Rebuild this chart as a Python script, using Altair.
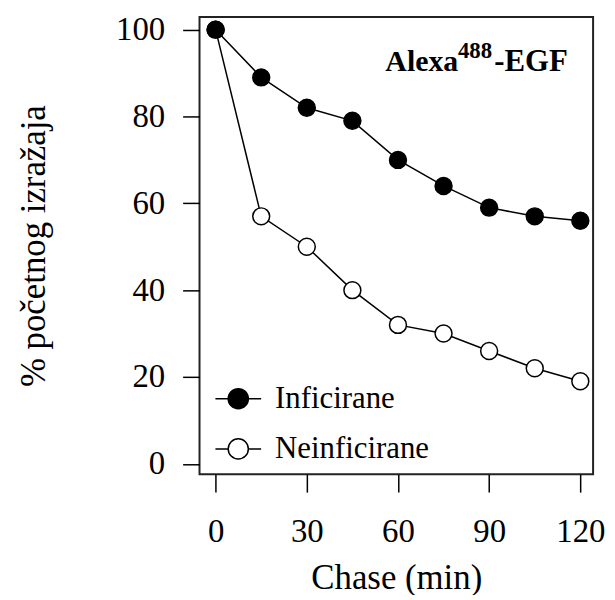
import altair as alt
import pandas as pd

chase = [0, 15, 30, 45, 60, 75, 90, 105, 120]
inficirane = [100, 89, 82, 79, 70, 64, 59, 57, 56]
neinficirane = [100, 57, 50, 40, 32, 30, 26, 22, 19]
series_names = ["Inficirane", "Neinficirane"]
x_ticks = [0, 30, 60, 90, 120]
y_ticks = [0, 20, 40, 60, 80, 100]
annot = ["Alexa", "488", "-EGF"]

# Neinficirane first so the filled points draw on top
rows = []
for x, v in zip(chase, neinficirane):
    rows.append({"chase": x, "value": v, "series": series_names[1]})
for x, v in zip(chase, inficirane):
    rows.append({"chase": x, "value": v, "series": series_names[0]})
df = pd.DataFrame(rows)

FONT = "Liberation Serif"
W, H = 396, 460

xscale = alt.Scale(domain=[-5.3, 124.2], nice=False, zero=False)
yscale = alt.Scale(domain=[-2.4, 102.9], nice=False, zero=False)

xaxis = alt.Axis(values=x_ticks, title="Chase (min)", domain=False, grid=False,
                 tickSize=18, tickColor="black", tickWidth=1.5,
                 labelFont=FONT, labelFontSize=33, labelColor="black", labelPadding=24,
                 labelFlush=False,
                 titleFont=FONT, titleFontSize=35, titleFontWeight="normal", titleColor="black",
                 titleX=W / 2, titleY=114.5, titleBaseline="alphabetic", titleAlign="center")
yaxis = alt.Axis(values=y_ticks, title="% početnog izražaja", domain=False, grid=False,
                 tickSize=17, tickColor="black", tickWidth=1.5,
                 labelFont=FONT, labelFontSize=33, labelColor="black", labelPadding=18,
                 labelFlush=False,
                 titleFont=FONT, titleFontSize=35, titleFontWeight="normal", titleColor="black",
                 titleX=-156, titleY=H / 2, titleAngle=270, titleBaseline="alphabetic",
                 titleAlign="center")

sym_path = "M-1,0L-0.44,0M0.44,0L1,0M0.44,0A0.44,0.44,0,1,1,-0.44,0A0.44,0.44,0,1,1,0.44,0Z"

base = alt.Chart(df)

lines = base.mark_line(color="black", strokeWidth=1.5).encode(
    x=alt.X("chase:Q", scale=xscale, axis=xaxis),
    y=alt.Y("value:Q", scale=yscale, axis=yaxis),
    detail="series:N",
)

points = base.mark_point(shape="circle", size=290, stroke="black", strokeWidth=1.5,
                         opacity=1, filled=False).encode(
    x=alt.X("chase:Q", scale=xscale),
    y=alt.Y("value:Q", scale=yscale),
    fill=alt.Fill("series:N",
                  scale=alt.Scale(domain=series_names, range=["black", "white"]),
                  legend=alt.Legend(title=None, orient="none", legendX=15, legendY=360,
                                    padding=0, symbolType=sym_path, symbolSize=2116,
                                    symbolStrokeColor="black", symbolStrokeWidth=1.5,
                                    symbolOpacity=1,
                                    labelFont=FONT, labelFontSize=31, labelColor="black",
                                    labelOffset=13, rowPadding=11.5, labelLimit=300)),
)

t1 = alt.Chart(pd.DataFrame({"t": [annot[0]]})).mark_text(
    font=FONT, fontSize=30, fontWeight="bold", align="left", baseline="alphabetic",
    color="black").encode(x=alt.value(187), y=alt.value(54), text="t:N")
t2 = alt.Chart(pd.DataFrame({"t": [annot[1]]})).mark_text(
    font=FONT, fontSize=23, fontWeight="bold", align="left", baseline="alphabetic",
    color="black").encode(x=alt.value(260), y=alt.value(41.5), text="t:N")
t3 = alt.Chart(pd.DataFrame({"t": [annot[2]]})).mark_text(
    font=FONT, fontSize=31, fontWeight="bold", align="left", baseline="alphabetic",
    color="black").encode(x=alt.value(296.5), y=alt.value(54), text="t:N")

chart = alt.layer(lines, points, t1, t2, t3).properties(
    width=W, height=H,
    background="white",
    autosize=alt.AutoSizeParams(type="none"),
    padding={"left": 192.7, "top": 7.3, "right": 14, "bottom": 120},
).configure_view(stroke="#222", strokeWidth=2)

chart.save("out.html", embed_options={"renderer": "svg", "actions": False})
